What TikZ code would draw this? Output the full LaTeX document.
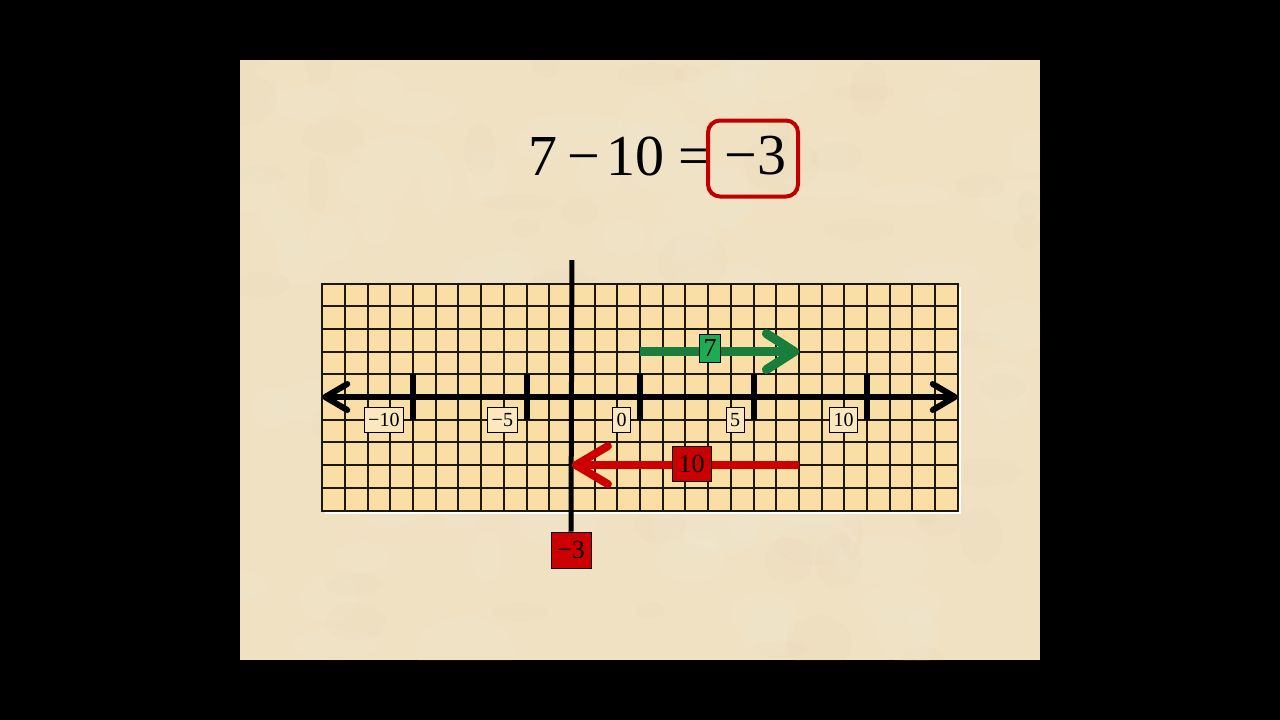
\documentclass[tikz,border=0pt]{standalone}
\usepackage{fontspec}
\setmainfont{Liberation Serif}
\usetikzlibrary{arrows.meta}
\definecolor{parch}{RGB}{239,225,194}
\definecolor{parchdark}{RGB}{222,200,160}
\definecolor{gridfill}{RGB}{249,223,166}
\definecolor{labfill}{RGB}{251,232,190}
\definecolor{gridc}{RGB}{30,24,10}
\definecolor{arrgreen}{RGB}{25,125,60}
\definecolor{labgreen}{RGB}{30,172,82}
\definecolor{arrred}{RGB}{204,0,0}
\definecolor{boxred}{RGB}{192,0,0}
\tikzset{
  gridline/.style={draw=gridc, line width=2pt},
  axisline/.style={line width=6pt, {Straight Barb[length=22pt,width=26pt,round]}-{Straight Barb[length=22pt,width=26pt,round]}},
  tickmark/.style={line width=6pt},
  ticklab/.style={draw=black, line width=0.8pt, fill=labfill, font=\fontsize{20}{20}\selectfont, inner xsep=4pt, inner ysep=0pt, minimum height=25pt, anchor=east},
  greenarr/.style={draw=arrgreen, line width=9pt, -{Straight Barb[length=28pt,width=36pt,round]}},
  redarr/.style={draw=arrred, line width=8pt, -{Straight Barb[length=32pt,width=38pt,round]}},
  steplab/.style={draw=black, line width=0.8pt, font=\fontsize{26}{26}\selectfont, inner ysep=0pt},
  ansbox/.style={draw=boxred, line width=4pt, rounded corners=12pt, minimum width=90pt, minimum height=76pt, inner sep=0pt, font=\fontsize{58}{60}\selectfont, text depth=7pt},
}
\begin{document}
\begin{tikzpicture}[x=1pt,y=-1pt]
\useasboundingbox (0,0) rectangle (1280,720);
\fill[black] (0,0) rectangle (1280,720);
\fill[parch] (240,60) rectangle (1040,660);
\begin{scope}
  \clip (240,60) rectangle (1040,660);
  \pgfmathsetseed{11}
  \foreach \i in {1,...,90} {
    \pgfmathsetmacro{\px}{240+800*rnd}
    \pgfmathsetmacro{\py}{60+600*rnd}
    \pgfmathsetmacro{\rx}{15+35*rnd}
    \pgfmathsetmacro{\ry}{10+25*rnd}
    \fill[white, opacity=0.05] (\px,\py) ellipse [x radius=\rx, y radius=\ry];
  }
  \foreach \i in {1,...,60} {
    \pgfmathsetmacro{\px}{240+800*rnd}
    \pgfmathsetmacro{\py}{60+600*rnd}
    \pgfmathsetmacro{\rx}{10+30*rnd}
    \pgfmathsetmacro{\ry}{8+20*rnd}
    \fill[parchdark, opacity=0.05] (\px,\py) ellipse [x radius=\rx, y radius=\ry];
  }
\end{scope}
\node[font=\fontsize{58}{60}\selectfont, anchor=base west, inner sep=0pt] (eq) at (528.5,175) {7\hspace{9.5pt}−\hspace{7pt}10\hspace{13.4pt}=};
\node[ansbox] (ans) at (753,158.5) {\hspace{5pt}−3};
\begin{scope}[shift={(640pt,-397pt)}, x=22.7pt, y=22.7pt]
  \fill[white] ([shift={(3pt,-3pt)}]-14,-5) rectangle ([shift={(3pt,-3pt)}]14,5);
  \fill[gridfill] (-14,-5) rectangle (14,5);
  \draw[gridline, step=1] (-14,-5) grid (14,5);
  \draw[gridline] (-14,-5) rectangle (14,5);
  \coordinate (axL) at (-14,0);
  \coordinate (axR) at (14,0);
  \draw[axisline] (axL) -- (axR);
  \foreach \v/\t in {-10/−10,-5/−5,0/0,5/5,10/10} {
    \coordinate (tb\v) at (\v,-1);
    \coordinate (tt\v) at (\v,1);
    \draw[tickmark] (tb\v) -- (tt\v);
    \node[ticklab] (lab\v) at (\v-0.4,-1.03) {\t};
  }
  \node[steplab, fill=arrred, minimum width=40pt, minimum height=36pt, inner xsep=6pt] (res) at (-3.04,-6.74) {−3};
  \coordinate (vtop) at (-3,6.03);
  \draw[line width=5pt] (vtop) -- (res.north);
  \coordinate (g0) at (0,2);
  \coordinate (g7) at (7,2);
  \draw[greenarr] (g0) -- (g7);
  \node[steplab, fill=labgreen, minimum width=21pt, minimum height=28pt, inner xsep=3pt] (seven) at (3.09,2.15) {7};
  \coordinate (r7) at (7,-3);
  \coordinate (rm3) at (-3,-3);
  \draw[redarr] (r7) -- (rm3);
  \node[steplab, fill=arrred, minimum width=39pt, minimum height=35pt, inner xsep=6pt] (ten) at (2.27,-2.95) {10};
\end{scope}
\end{tikzpicture}
\end{document}
